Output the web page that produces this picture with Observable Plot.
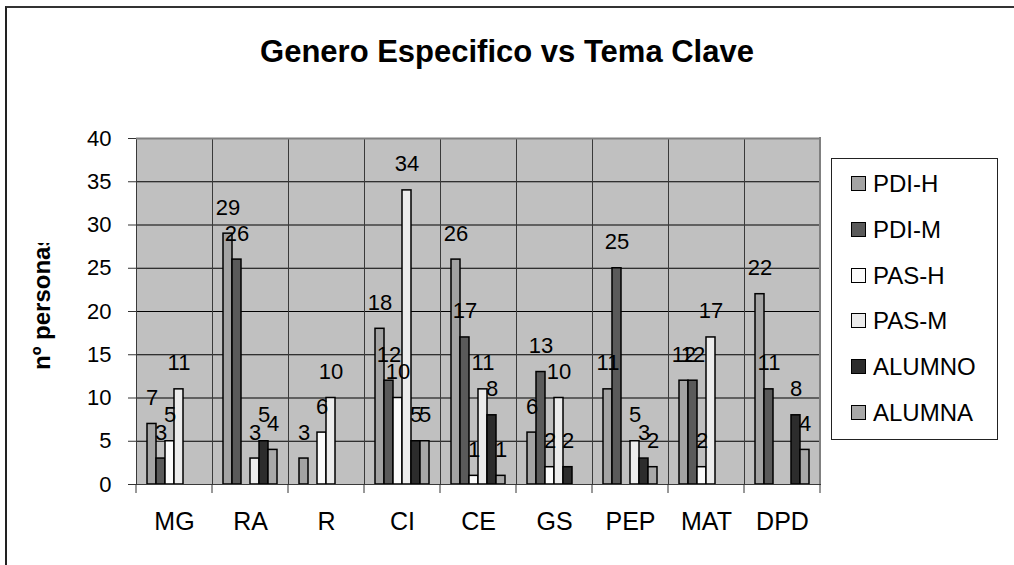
<!DOCTYPE html>
<html>
<head>
<meta charset="utf-8">
<script src="https://cdn.jsdelivr.net/npm/d3@7"></script>
<script src="https://cdn.jsdelivr.net/npm/@observablehq/plot@0.6"></script>
<style>
  body { margin: 0; background: #fff; font-family: Arial, "Liberation Sans", sans-serif; }
  #wrap { position: relative; width: 1014px; height: 565px; overflow: hidden; background: #fff; }
  #border { position: absolute; left: 5px; top: 6px; width: 1200px; height: 1000px; border-left: 2px solid #222; border-top: 2px solid #333; }
  #title { position: absolute; left: 0; top: 36px; width: 1014px; text-align: center; font-weight: bold; font-size: 31px; line-height: 31px; color: #000; }
  #chart { position: absolute; left: 0; top: 0; }
  #ylab { position: absolute; left: 0; top: 243px; width: 80px; height: 127px; overflow: hidden; }
  #ylab span { position: absolute; left: 30px; top: 127px; transform-origin: 0 0; transform: rotate(-90deg); font-weight: bold; font-size: 24px; line-height: 24px; white-space: nowrap; color: #000; }
  #legend { position: absolute; left: 831px; top: 158px; width: 165px; height: 280px; border: 1px solid #222; background: #fff; }
  .row { position: absolute; left: 0; height: 26px; width: 164px; }
  .sw { position: absolute; left: 19px; top: 5px; width: 13px; height: 13px; border: 1.5px solid #000; }
  .lt { position: absolute; left: 41px; top: 0; font-size: 24px; line-height: 26px; color: #000; white-space: nowrap; }
</style>
</head>
<body>
<div id="wrap">
  <div id="border"></div>
  <div id="title">Genero Especifico vs Tema Clave</div>
  <div id="chart"></div>
  <div id="ylab"><span>nº personas</span></div>
  <div id="legend"></div>
</div>
<script>
const categories = ["MG", "RA", "R", "CI", "CE", "GS", "PEP", "MAT", "DPD"];
const series = ["PDI-H", "PDI-M", "PAS-H", "PAS-M", "ALUMNO", "ALUMNA"];
const colors = ["#a3a3a3", "#5a5a5a", "#fbfbfb", "#ececec", "#2c2c2c", "#a8a8a8"];
const pdiH   = [7, 29, 3, 18, 26, 6, 11, 12, 22];
const pdiM   = [3, 26, 0, 12, 17, 13, 25, 12, 11];
const pasH   = [5, 0, 6, 10, 1, 2, 0, 2, 0];
const pasM   = [11, 3, 10, 34, 11, 10, 5, 17, 0];
const alumno = [0, 5, 0, 5, 8, 2, 3, 0, 8];
const alumna = [0, 4, 0, 5, 1, 0, 2, 0, 4];
const yTicks = [0, 5, 10, 15, 20, 25, 30, 35, 40];
const gridTicks = [5, 10, 15, 20, 25, 30, 35];

const valuesBySeries = [pdiH, pdiM, pasH, pasM, alumno, alumna];
const table = [];
categories.forEach((c, i) => {
  series.forEach((s, j) => {
    table.push({cat: c, ser: s, v: valuesBySeries[j][i]});
  });
});
const shown = table.filter(d => d.v > 0);

const W = 1014, H = 565;
const chart = Plot.plot({
  width: W,
  height: H,
  marginLeft: 132,
  marginRight: 191,
  marginTop: 138,
  marginBottom: 81,
  style: {fontFamily: 'Arial, "Liberation Sans", sans-serif', background: "transparent", color: "#000"},
  fx: {domain: categories, padding: 0, label: null, axis: null},
  x: {domain: series, paddingInner: 0, paddingOuter: 0.82, axis: null},
  y: {domain: [0, 40], axis: null},
  color: {domain: series, range: colors},
  marks: [
    Plot.frame({fill: "#c0c0c0"}),
    Plot.ruleY(gridTicks, {stroke: "#000", strokeWidth: 1}),
    Plot.barY(shown, {fx: "cat", x: "ser", y: "v", fill: "ser", stroke: "#000", strokeWidth: 1.5}),
    Plot.frame({stroke: "#3a3a3a", strokeWidth: 1}),
    Plot.ruleY([40], {stroke: "#808080", strokeWidth: 2}),
    Plot.text(shown, {fx: "cat", x: "ser", y: "v", text: d => String(d.v), dy: -19, lineAnchor: "bottom", fontSize: 22, fill: "#000"}),
    Plot.axisY({ticks: yTicks, tickSize: 8, tickPadding: 17, fontSize: 22, label: null, stroke: "#333"}),
    Plot.axisFx({domain: categories, anchor: "bottom", tickSize: 0, tickPadding: 28, fontSize: 25, label: null})
  ]
});
document.getElementById("chart").appendChild(chart);

// category boundary tick marks and right border of plot area, from Plot's own scales
const fx = chart.scale("fx");
const ys = chart.scale("y");
const svg = d3.select(chart);
const y0 = ys.apply(0), yTop = ys.apply(40);
const bounds = categories.map(c => fx.apply(c));
bounds.push(fx.apply(categories[categories.length - 1]) + fx.bandwidth);
svg.append("g").selectAll("line").data(bounds).join("line")
  .attr("x1", d => d).attr("x2", d => d)
  .attr("y1", y0).attr("y2", y0 + 9)
  .attr("stroke", "#333").attr("stroke-width", 1);
svg.append("line")
  .attr("x1", bounds[bounds.length - 1]).attr("x2", bounds[bounds.length - 1])
  .attr("y1", yTop - 1).attr("y2", y0)
  .attr("stroke", "#808080").attr("stroke-width", 2);

// legend
const legend = document.getElementById("legend");
series.forEach((s, i) => {
  const row = document.createElement("div");
  row.className = "row";
  row.style.top = (12 + i * 45.8) + "px";
  const sw = document.createElement("div");
  sw.className = "sw";
  sw.style.background = colors[i];
  const t = document.createElement("div");
  t.className = "lt";
  t.textContent = s;
  row.appendChild(sw);
  row.appendChild(t);
  legend.appendChild(row);
});
</script>
</body>
</html>
